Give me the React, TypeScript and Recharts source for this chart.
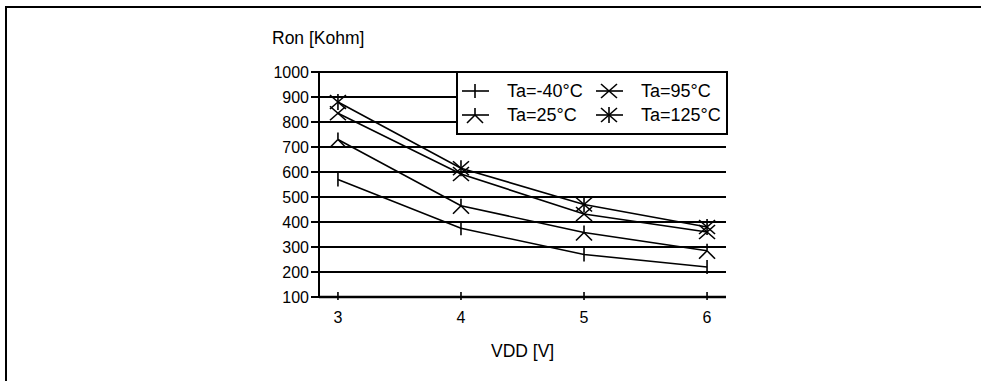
import React from 'react'
import { LineChart, Line, XAxis, YAxis, CartesianGrid, Legend } from 'recharts'

// VDD [V] values on the x axis
const vdd = [3, 4, 5, 6]
// Ron [Kohm] per temperature
const ronM40 = [570, 375, 270, 220]
const ron25 = [730, 465, 358, 285]
const ron95 = [835, 592, 432, 360]
const ron125 = [880, 615, 470, 380]

const yTicks = [100, 200, 300, 400, 500, 600, 700, 800, 900, 1000]
const seriesNames = ['Ta=-40°C', 'Ta=25°C', 'Ta=95°C', 'Ta=125°C']

const data = vdd.map((v, i) => ({
  vdd: v,
  m40: ronM40[i],
  t25: ron25[i],
  t95: ron95[i],
  t125: ron125[i],
}))

const FONT = '"Liberation Sans", Arial, sans-serif'
const SW = 1.6

type Kind = 'plus' | 'tri' | 'x' | 'star'

function Marker({ kind, cx, cy }: { kind: Kind; cx: number; cy: number }) {
  const s = { stroke: '#000', strokeWidth: SW, fill: 'none' }
  if (kind === 'plus') {
    return <line x1={cx} x2={cx} y1={cy - 7} y2={cy + 7} {...s} />
  }
  if (kind === 'tri') {
    return (
      <g {...s}>
        <line x1={cx} x2={cx} y1={cy} y2={cy - 7} />
        <line x1={cx} x2={cx - 8} y1={cy} y2={cy + 8} />
        <line x1={cx} x2={cx + 8} y1={cy} y2={cy + 8} />
      </g>
    )
  }
  if (kind === 'x') {
    return (
      <g {...s}>
        <line x1={cx - 8} x2={cx + 8} y1={cy - 7} y2={cy + 7} />
        <line x1={cx - 8} x2={cx + 8} y1={cy + 7} y2={cy - 7} />
      </g>
    )
  }
  return (
    <g {...s}>
      <line x1={cx - 8} x2={cx + 8} y1={cy - 7} y2={cy + 7} />
      <line x1={cx - 8} x2={cx + 8} y1={cy + 7} y2={cy - 7} />
      <line x1={cx} x2={cx} y1={cy - 8} y2={cy + 8} />
    </g>
  )
}

const dotFor = (kind: Kind) => (p: any) => (
  <Marker key={`${kind}-${p.index}`} kind={kind} cx={p.cx} cy={p.cy} />
)

const kinds: Kind[] = ['plus', 'tri', 'x', 'star']

function LegendBox() {
  // order in the box: col1 = -40, 25 ; col2 = 95, 125
  const cells = [
    { i: 0, col: 0, row: 0 },
    { i: 2, col: 1, row: 0 },
    { i: 1, col: 0, row: 1 },
    { i: 3, col: 1, row: 1 },
  ]
  return (
    <svg width={272} height={64} style={{ display: 'block' }}>
      <rect x={1} y={1} width={270} height={62} fill="#fff" stroke="#000" strokeWidth={2} />
      {cells.map((c) => {
        const lx = c.col === 0 ? 6 : 140
        const ly = c.row === 0 ? 20 : 44
        return (
          <g key={c.i}>
            <line x1={lx} x2={lx + 27} y1={ly} y2={ly} stroke="#000" strokeWidth={SW} />
            <Marker kind={kinds[c.i]} cx={lx + 13} cy={ly} />
            <text x={lx + 45} y={ly + 6} fontSize={18} fontFamily={FONT} fill="#000">
              {seriesNames[c.i]}
            </text>
          </g>
        )
      })}
    </svg>
  )
}

function XTick(props: any) {
  const { x, y, payload } = props
  return (
    <g>
      <line x1={x} x2={x} y1={y - 5} y2={y + 3} stroke="#000" strokeWidth={SW} />
      <text x={x} y={y + 26} textAnchor="middle" fontSize={16} fontFamily={FONT} fill="#000">
        {payload.value}
      </text>
    </g>
  )
}

export default function App() {
  return (
    <div style={{ position: 'absolute', left: 0, top: 0, width: 981, height: 381, background: '#fff', overflow: 'hidden' }}>
      <div style={{ position: 'absolute', left: 5, top: 6, width: 990, height: 400, borderLeft: '2px solid #000', borderTop: '2px solid #000' }} />
      <div style={{ position: 'absolute', left: 272, top: 28, fontSize: 17.5, fontFamily: FONT, color: '#000' }}>Ron [Kohm]</div>
      <div style={{ position: 'absolute', left: 491, top: 341, fontSize: 17.5, fontFamily: FONT, color: '#000' }}>VDD [V]</div>
      <LineChart
        width={981}
        height={381}
        data={data}
        margin={{ top: 72, right: 255, left: 0, bottom: 54 }}
        style={{ position: 'absolute', left: 0, top: 0 }}
      >
        <CartesianGrid yAxisId="l" vertical={false} stroke="#000" strokeWidth={2} />
        <XAxis
          dataKey="vdd"
          type="number"
          domain={[2.846, 6.154]}
          ticks={vdd}
          allowDataOverflow
          height={30}
          tickLine={false}
          tickSize={0}
          tickMargin={0}
          axisLine={{ stroke: '#000', strokeWidth: 2.5 }}
          tick={<XTick />}
        />
        <YAxis
          yAxisId="l"
          domain={[100, 1000]}
          ticks={yTicks}
          width={319}
          tickSize={8}
          tickMargin={2}
          interval={0}
          axisLine={{ stroke: '#000', strokeWidth: 2 }}
          tickLine={{ stroke: '#000', strokeWidth: 2 }}
          tick={{ fill: '#000', fontSize: 16, fontFamily: FONT }}
        />
        <YAxis
          yAxisId="r"
          orientation="right"
          domain={[100, 1000]}
          width={0}
          tick={false}
          tickLine={false}
          axisLine={{ stroke: '#000', strokeWidth: 2 }}
        />
        <Legend
          layout="horizontal"
          verticalAlign="middle"
          align="center"
          content={() => <LegendBox />}
          wrapperStyle={{ position: 'absolute', left: 456, top: 71, width: 272, height: 64 }}
        />
        <Line yAxisId="l" type="linear" dataKey="m40" name={seriesNames[0]} stroke="#000" strokeWidth={SW} dot={dotFor('plus')} activeDot={false} isAnimationActive={false} />
        <Line yAxisId="l" type="linear" dataKey="t25" name={seriesNames[1]} stroke="#000" strokeWidth={SW} dot={dotFor('tri')} activeDot={false} isAnimationActive={false} />
        <Line yAxisId="l" type="linear" dataKey="t95" name={seriesNames[2]} stroke="#000" strokeWidth={SW} dot={dotFor('x')} activeDot={false} isAnimationActive={false} />
        <Line yAxisId="l" type="linear" dataKey="t125" name={seriesNames[3]} stroke="#000" strokeWidth={SW} dot={dotFor('star')} activeDot={false} isAnimationActive={false} />
      </LineChart>
    </div>
  )
}
